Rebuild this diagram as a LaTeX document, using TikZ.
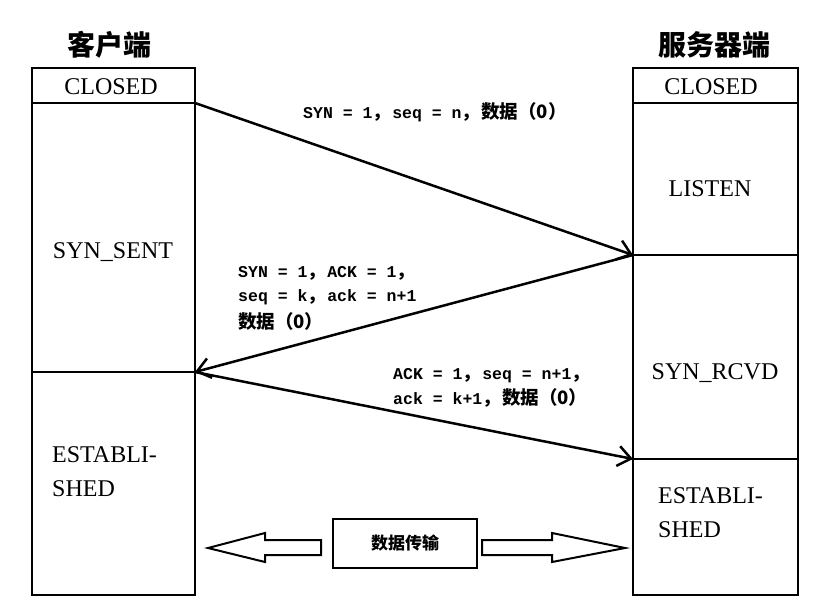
\documentclass[tikz,border=0pt]{standalone}
\usepackage{fontspec}
\setmainfont{Liberation Serif}
\newfontfamily\cjk{Noto Sans CJK SC}
\newfontfamily\monof{Liberation Mono}
\usetikzlibrary{arrows.meta}
\newcommand{\zhtext}[1]{{\cjk\bfseries\fontsize{18.5}{24.5}\selectfont #1}}
\newcommand{\zhcomma}{\makebox[19.8pt][l]{\zhtext{，}}}
\tikzset{
  statebox/.style={draw, line width=2.5pt, outer sep=0pt, inner sep=0pt, anchor=north west},
  statelabel/.style={font=\fontsize{24}{28}\selectfont, inner sep=0pt},
  esttext/.style={font=\fontsize{24}{34}\selectfont, inner sep=0pt, align=left, anchor=north west},
  title/.style={font=\cjk\bfseries\fontsize{28}{32}\selectfont, inner sep=0pt},
  msg/.style={font=\monof\bfseries\fontsize{16.5}{24.5}\selectfont, inner sep=0pt, align=left, anchor=base west},
  msgarrow/.style={line width=2.5pt, -{Straight Barb[length=13pt,width=20pt,line width=2.5pt]}},
  hollow/.style={draw, line width=2pt, line join=miter},
}
\begin{document}
\begin{tikzpicture}[x=1pt,y=-1pt]
\useasboundingbox (0,0) rectangle (826,615);
% titles
\node[title] (tclient) at (109,45) {客户端};
\node[title] (tserver) at (714,45) {服务器端};
% client column
\node[statebox, minimum width=163pt, minimum height=35pt] (cclosed) at (32,68) {};
\node[statebox, minimum width=163pt, minimum height=269pt] (csent) at (32,103) {};
\node[statebox, minimum width=163pt, minimum height=223pt] (cest) at (32,372) {};
% server column
\node[statebox, minimum width=165pt, minimum height=35pt] (sclosed) at (633,68) {};
\node[statebox, minimum width=165pt, minimum height=152pt] (slisten) at (633,103) {};
\node[statebox, minimum width=165pt, minimum height=204pt] (srcvd) at (633,255) {};
\node[statebox, minimum width=165pt, minimum height=136pt] (sest) at (633,459) {};
% state labels
\node[statelabel] (lcclosed) at (111,87) {CLOSED};
\node[statelabel] (lsclosed) at (711,87) {CLOSED};
\node[statelabel] (lsent) at (113,252) {SYN\_SENT};
\node[statelabel] (llisten) at (710,189) {LISTEN};
\node[statelabel] (lrcvd) at (715,373) {SYN\_RCVD};
\node[esttext] (lcest) at (52,446) {ESTABLI-\\SHED};
\node[esttext] (lsest) at (658,487) {ESTABLI-\\SHED};
% messages
\draw[msgarrow] (cclosed.south east) -- (slisten.south west);
\draw[msgarrow] (slisten.south west) -- (csent.south east);
\draw[msgarrow] (csent.south east) -- (srcvd.south west);
\node[msg] (m1) at (303,118) {SYN = 1\zhcomma seq = n\zhcomma\zhtext{数据（0）}};
\node[msg] (m2) at (238,328) {SYN = 1\zhcomma ACK = 1\zhcomma\\seq = k\zhcomma ack = n+1\\[2pt]\zhtext{数据（0）}};
\node[msg] (m3) at (393,404) {ACK = 1\zhcomma seq = n+1\zhcomma\\ack = k+1\zhcomma\zhtext{数据（0）}};
% data transfer
\node[draw, line width=2.5pt, minimum width=144pt, minimum height=49pt, inner sep=0pt, font=\cjk\bfseries\fontsize{17}{20}\selectfont] (data) at (405,543.5) {数据传输};
\draw[hollow] (321,540) -- (265,540) -- (265,533) -- (208,548) -- (265,562) -- (265,555) -- (321,555) -- cycle;
\draw[hollow] (482,540) -- (552,540) -- (552,533) -- (625,548) -- (552,562) -- (552,555) -- (482,555) -- cycle;
\end{tikzpicture}
\end{document}
